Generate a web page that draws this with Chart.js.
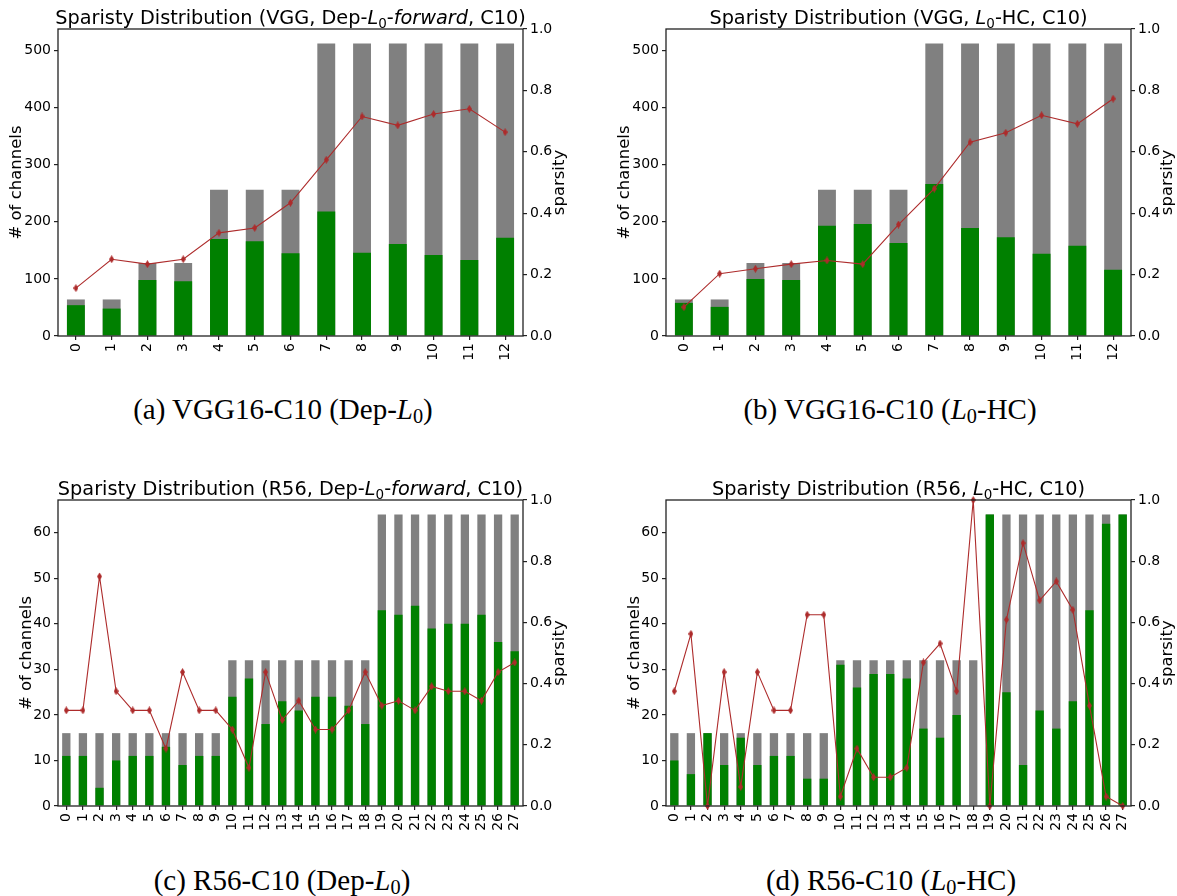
<!DOCTYPE html>
<html>
<head>
<meta charset="utf-8">
<script src="https://cdn.jsdelivr.net/npm/chart.js@4.4.0/dist/chart.umd.min.js"></script>
<style>
  body { margin: 0; background: #fff; width: 1177px; height: 896px; position: relative; overflow: hidden; }
  .panel { position: absolute; }
  .caption {
    position: absolute;
    font-family: "Liberation Serif", "Times New Roman", serif;
    font-size: 29px;
    color: #000;
    white-space: nowrap;
    transform: translate(-50%, -50%);
  }
  .caption sub { font-size: 0.7em; vertical-align: -0.22em; line-height: 0; }
</style>
</head>
<body>
<div class="panel" style="left:0;top:0"><canvas id="vggDep" width="588" height="380"></canvas></div>
<div class="panel" style="left:588px;top:0"><canvas id="vggHc" width="589" height="380"></canvas></div>
<div class="panel" style="left:0;top:470px"><canvas id="r56Dep" width="588" height="380"></canvas></div>
<div class="panel" style="left:588px;top:470px"><canvas id="r56Hc" width="589" height="380"></canvas></div>

<div class="caption" style="left:283px;top:409px">(a) VGG16-C10 (Dep-<i>L</i><sub>0</sub>)</div>
<div class="caption" style="left:890px;top:409px">(b) VGG16-C10 (<i>L</i><sub>0</sub>-HC)</div>
<div class="caption" style="left:282px;top:880px">(c) R56-C10 (Dep-<i>L</i><sub>0</sub>)</div>
<div class="caption" style="left:891px;top:880px">(d) R56-C10 (<i>L</i><sub>0</sub>-HC)</div>

<script>
// layer indices
const vggLayers = ['0', '1', '2', '3', '4', '5', '6', '7', '8', '9', '10', '11', '12'];
const r56Layers = ['0', '1', '2', '3', '4', '5', '6', '7', '8', '9', '10', '11', '12', '13',
                   '14', '15', '16', '17', '18', '19', '20', '21', '22', '23', '24', '25', '26', '27'];

// total channels per layer
const vggTotal = [64, 64, 128, 128, 256, 256, 256, 512, 512, 512, 512, 512, 512];
const r56Total = [16, 16, 16, 16, 16, 16, 16, 16, 16, 16,
                  32, 32, 32, 32, 32, 32, 32, 32, 32,
                  64, 64, 64, 64, 64, 64, 64, 64, 64];

// remaining channels after pruning
const vggDepRemain = [54, 48, 98, 96, 170, 166, 145, 218, 146, 161, 142, 133, 172];
const vggHcRemain = [58, 51, 100, 98, 193, 196, 163, 266, 189, 173, 144, 158, 116];
const r56DepRemain = [11, 11, 4, 10, 11, 11, 13, 9, 11, 11, 24, 28, 18, 23,
                      21, 24, 24, 22, 18, 43, 42, 44, 39, 40, 40, 42, 36, 34];
const r56HcRemain = [10, 7, 16, 9, 15, 9, 11, 11, 6, 6, 31, 26, 29, 29,
                     28, 17, 15, 20, 0, 64, 25, 9, 21, 17, 23, 43, 62, 64];

// per-layer sparsity
const vggDepSparsity = [0.156, 0.25, 0.234, 0.25, 0.336, 0.352, 0.434, 0.574, 0.715, 0.686, 0.723, 0.74, 0.664];
const vggHcSparsity = [0.094, 0.203, 0.219, 0.234, 0.246, 0.234, 0.363, 0.480, 0.631, 0.662, 0.719, 0.691, 0.773];
const r56DepSparsity = [0.3125, 0.3125, 0.75, 0.375, 0.3125, 0.3125, 0.1875, 0.4375, 0.3125, 0.3125,
                        0.25, 0.125, 0.4375, 0.281, 0.344, 0.25, 0.25, 0.3125, 0.4375,
                        0.328, 0.344, 0.3125, 0.391, 0.375, 0.375, 0.344, 0.4375, 0.469];
const r56HcSparsity = [0.375, 0.5625, 0, 0.4375, 0.0625, 0.4375, 0.3125, 0.3125, 0.625, 0.625,
                       0.031, 0.1875, 0.094, 0.094, 0.125, 0.469, 0.531, 0.375, 1.0,
                       0, 0.609, 0.859, 0.672, 0.734, 0.641, 0.328, 0.031, 0];

// tick labels
const vggChannelTicks = [0, 100, 200, 300, 400, 500];
const r56ChannelTicks = [0, 10, 20, 30, 40, 50, 60];
const sparsityTicks = [0, 0.2, 0.4, 0.6, 0.8, 1.0];

const FONT = 'DejaVu Sans';
const INK = '#222';
const LINE_RED = '#ad2b2b';

// thin diamond marker
function thinDiamond(w, h, color) {
  const c = document.createElement('canvas');
  c.width = w;
  c.height = h;
  const g = c.getContext('2d');
  g.fillStyle = color;
  g.beginPath();
  g.moveTo(w / 2, 0);
  g.lineTo(w, h / 2);
  g.lineTo(w / 2, h);
  g.lineTo(0, h / 2);
  g.closePath();
  g.fill();
  return c;
}
const marker = thinDiamond(5, 8, LINE_RED);

// title with italic / subscript pieces
function drawRich(ctx, parts, cx, baseline, size) {
  const fontOf = p => (p.s === 'i' ? 'italic ' : '') + (p.s === 'sub' ? size * 0.7 : size) + 'px "' + FONT + '"';
  let total = 0;
  parts.forEach(p => { ctx.font = fontOf(p); total += ctx.measureText(p.t).width; });
  let x = cx - total / 2;
  ctx.textAlign = 'left';
  ctx.textBaseline = 'alphabetic';
  parts.forEach(p => {
    ctx.font = fontOf(p);
    ctx.fillText(p.t, x, baseline + (p.s === 'sub' ? size * 0.22 : 0));
    x += ctx.measureText(p.t).width;
  });
}

function decorPlugin(title, leftGap) {
  return {
    id: 'decor',
    afterDraw(chart) {
      const { ctx, chartArea: a } = chart;
      ctx.save();
      // axes frame
      ctx.strokeStyle = INK;
      ctx.lineWidth = 1.3;
      ctx.strokeRect(a.left, a.top, a.right - a.left, a.bottom - a.top);
      ctx.fillStyle = '#000';
      drawRich(ctx, title, (a.left + a.right) / 2, a.top - 5, 19.3);
      // axis titles, both read bottom to top
      ctx.font = '16.5px "' + FONT + '"';
      ctx.textAlign = 'center';
      ctx.textBaseline = 'middle';
      const midY = (a.top + a.bottom) / 2;
      ctx.save();
      ctx.translate(a.left - leftGap, midY);
      ctx.rotate(-Math.PI / 2);
      ctx.fillText('# of channels', 0, 0);
      ctx.restore();
      ctx.save();
      ctx.translate(a.right + 37, midY);
      ctx.rotate(-Math.PI / 2);
      ctx.fillText('sparsity', 0, 0);
      ctx.restore();
      ctx.restore();
    }
  };
}

function tickGrid() {
  return { display: true, drawOnChartArea: false, offset: false, tickLength: 4, color: INK, lineWidth: 1.2 };
}

function makePanel(id, o) {
  const tickFont = { family: FONT, size: 14 };
  new Chart(document.getElementById(id), {
    type: 'bar',
    data: {
      labels: o.labels,
      datasets: [
        {
          type: 'line',
          label: 'sparsity',
          data: o.sparsity,
          yAxisID: 'y2',
          borderColor: LINE_RED,
          backgroundColor: LINE_RED,
          borderWidth: 1.1,
          pointStyle: marker,
          pointRadius: 4,
          tension: 0,
          clip: 4,
          order: 0
        },
        {
          label: 'remaining',
          data: o.remain,
          yAxisID: 'y',
          backgroundColor: '#008000',
          grouped: false,
          barPercentage: 0.5,
          categoryPercentage: 1,
          order: 1
        },
        {
          label: 'total',
          data: o.total,
          yAxisID: 'y',
          backgroundColor: '#808080',
          grouped: false,
          barPercentage: 0.5,
          categoryPercentage: 1,
          order: 2
        }
      ]
    },
    options: {
      responsive: false,
      animation: false,
      events: [],
      layout: { padding: { top: o.top, left: 0, right: 0, bottom: 0 } },
      plugins: { legend: { display: false }, tooltip: { enabled: false } },
      scales: {
        x: {
          offset: true,
          grid: tickGrid(),
          border: { display: false },
          ticks: { autoSkip: false, maxRotation: 90, minRotation: 90, color: '#000', font: tickFont, padding: 3 },
          afterFit: s => { s.height = 44; }
        },
        y: {
          position: 'left',
          min: 0,
          max: o.yMax,
          grid: tickGrid(),
          border: { display: false },
          afterBuildTicks: s => { s.ticks = o.yTicks.map(v => ({ value: v })); },
          ticks: { color: '#000', font: tickFont, padding: 3 },
          afterFit: s => { s.width = o.leftW; }
        },
        y2: {
          position: 'right',
          min: 0,
          max: 1,
          grid: tickGrid(),
          border: { display: false },
          afterBuildTicks: s => { s.ticks = sparsityTicks.map(v => ({ value: v })); },
          ticks: { color: '#000', font: tickFont, padding: 3, callback: v => v.toFixed(1) },
          afterFit: s => { s.width = o.rightW; }
        }
      }
    },
    plugins: [decorPlugin(o.title, o.leftGap)]
  });
}

const depTitle = name => [
  { t: 'Sparisty Distribution (' + name + ', Dep-' },
  { t: 'L', s: 'i' },
  { t: '0', s: 'sub' },
  { t: '-' },
  { t: 'forward', s: 'i' },
  { t: ', C10)' }
];
const hcTitle = name => [
  { t: 'Sparisty Distribution (' + name + ', ' },
  { t: 'L', s: 'i' },
  { t: '0', s: 'sub' },
  { t: '-HC, C10)' }
];

makePanel('vggDep', {
  labels: vggLayers, total: vggTotal, remain: vggDepRemain, sparsity: vggDepSparsity,
  yMax: 537.6, yTicks: vggChannelTicks, title: depTitle('VGG'),
  top: 29, leftW: 58, rightW: 65, leftGap: 41
});
makePanel('vggHc', {
  labels: vggLayers, total: vggTotal, remain: vggHcRemain, sparsity: vggHcSparsity,
  yMax: 537.6, yTicks: vggChannelTicks, title: hcTitle('VGG'),
  top: 29, leftW: 78, rightW: 46, leftGap: 41
});
makePanel('r56Dep', {
  labels: r56Layers, total: r56Total, remain: r56DepRemain, sparsity: r56DepSparsity,
  yMax: 67.2, yTicks: r56ChannelTicks, title: depTitle('R56'),
  top: 30, leftW: 58, rightW: 65, leftGap: 31
});
makePanel('r56Hc', {
  labels: r56Layers, total: r56Total, remain: r56HcRemain, sparsity: r56HcSparsity,
  yMax: 67.2, yTicks: r56ChannelTicks, title: hcTitle('R56'),
  top: 30, leftW: 78, rightW: 46, leftGap: 31
});
</script>
</body>
</html>
